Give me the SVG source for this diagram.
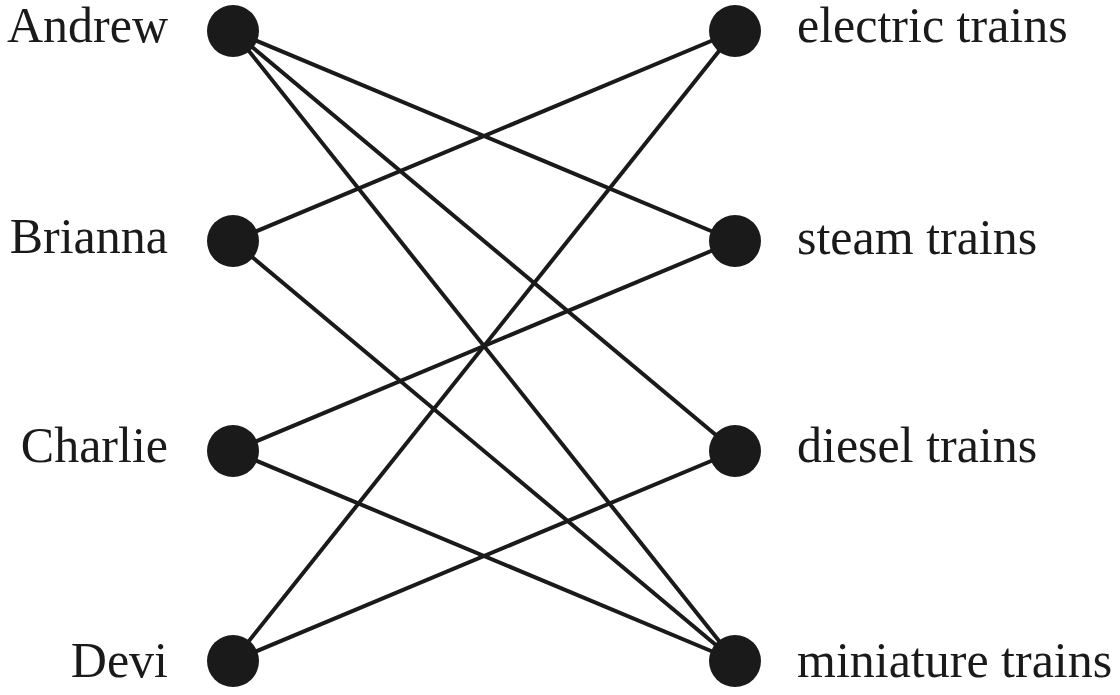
<svg xmlns="http://www.w3.org/2000/svg" width="1120" height="695" viewBox="0 0 1120 695">
<style>
.e{stroke:#1a1a1a;stroke-width:4;fill:none}
.n{fill:#1a1a1a}
.l{font-family:"Liberation Serif",serif;font-size:50px;fill:#1a1a1a}
.L{text-anchor:end}
</style>
<rect width="1120" height="695" fill="#fff"/>
<g id="connectors">
<line class="e" x1="233" y1="31" x2="735" y2="241"/>
<line class="e" x1="233" y1="31" x2="735" y2="451"/>
<line class="e" x1="233" y1="31" x2="735" y2="661"/>
<line class="e" x1="233" y1="241" x2="735" y2="31"/>
<line class="e" x1="233" y1="241" x2="735" y2="661"/>
<line class="e" x1="233" y1="451" x2="735" y2="241"/>
<line class="e" x1="233" y1="451" x2="735" y2="661"/>
<line class="e" x1="233" y1="661" x2="735" y2="31"/>
<line class="e" x1="233" y1="661" x2="735" y2="451"/>
</g>
<g id="andrew"><circle class="n" cx="233" cy="31" r="26"/><text class="l L" x="168" y="42">Andrew</text></g>
<g id="brianna"><circle class="n" cx="233" cy="241" r="26"/><text class="l L" x="168" y="253">Brianna</text></g>
<g id="charlie"><circle class="n" cx="233" cy="451" r="26"/><text class="l L" x="168" y="462">Charlie</text></g>
<g id="devi"><circle class="n" cx="233" cy="661" r="26"/><text class="l L" x="168" y="677">Devi</text></g>
<g id="electric"><circle class="n" cx="735" cy="31" r="26"/><text class="l" x="797" y="42">electric trains</text></g>
<g id="steam"><circle class="n" cx="735" cy="241" r="26"/><text class="l" x="797" y="254">steam trains</text></g>
<g id="diesel"><circle class="n" cx="735" cy="451" r="26"/><text class="l" x="797" y="462">diesel trains</text></g>
<g id="miniature"><circle class="n" cx="735" cy="661" r="26"/><text class="l" x="797" y="677">miniature trains</text></g>
</svg>
